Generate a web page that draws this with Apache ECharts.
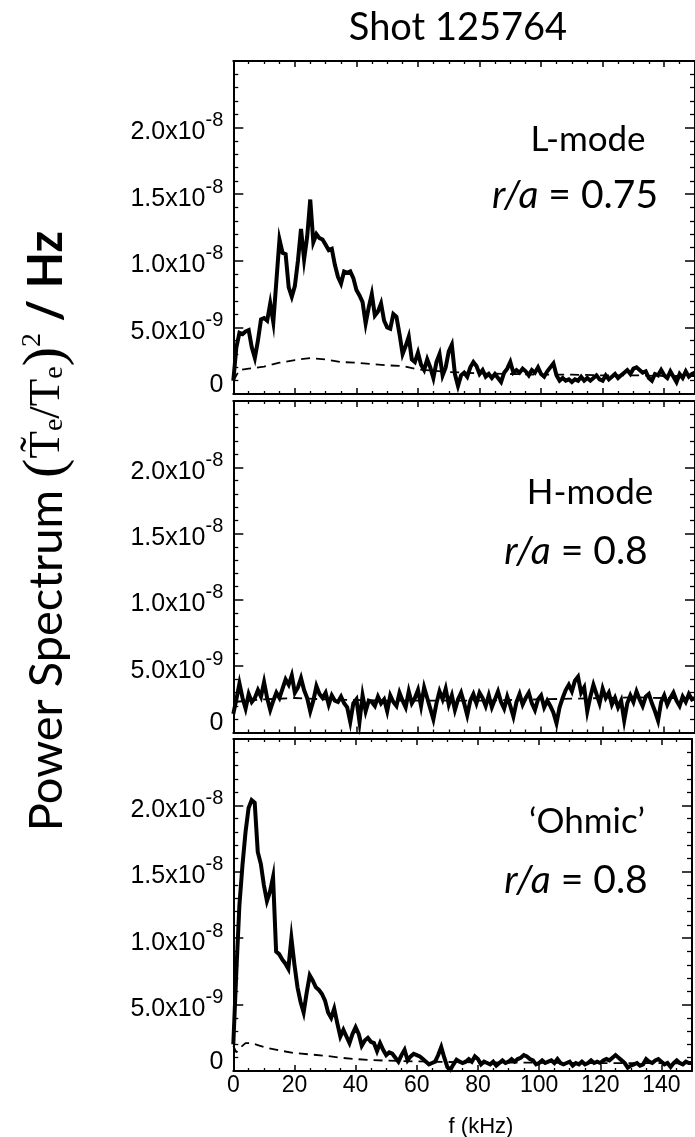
<!DOCTYPE html>
<html><head><meta charset="utf-8">
<script src="https://cdn.jsdelivr.net/npm/echarts/dist/echarts.min.js"></script>
<style>html,body{margin:0;padding:0;background:#fff}#c{width:695px;height:1137px}</style>
</head><body><div id="c"></div>
<script>
// ---------------- DATA (values in units of 1e-9 (Te~/Te)^2/Hz) ----------------
const freq = [0,1,2,3,4,5,6,7,8,9,10,11,12,13,14,15,16,17,18,19,20,21,22,23,24,25,26,27,28,29,30,31,32,33,34,35,36,37,38,39,40,41,42,43,44,45,46,47,48,49,50,51,52,53,54,55,56,57,58,59,60,61,62,63,64,65,66,67,68,69,70,71,72,73,74,75,76,77,78,79,80,81,82,83,84,85,86,87,88,89,90,91,92,93,94,95,96,97,98,99,100,101,102,103,104,105,106,107,108,109,110,111,112,113,114,115,116,117,118,119,120,121,122,123,124,125,126,127,128,129,130,131,132,133,134,135,136,137,138,139,140,141,142,143,144,145,146,147,148,149,150];

const lModeSpectrum = [1.0,3.5,4.6,4.5,4.7,4.8,3.5,2.7,4.0,5.6,5.7,5.5,6.8,5.4,8.5,11.6,10.6,10.5,8.0,7.3,8.1,10.0,12.4,10.1,11.8,14.6,11.4,12.0,11.7,11.6,11.2,10.8,10.9,9.7,8.8,8.3,9.2,9.1,9.2,8.7,7.8,7.4,6.9,5.3,6.5,7.5,5.9,6.2,6.8,5.5,5.0,4.9,6.0,5.8,4.5,3.0,3.6,4.3,2.6,2.4,3.1,2.2,1.8,2.6,2.0,1.2,2.4,3.0,1.4,2.0,3.2,3.7,1.5,0.6,1.4,1.6,1.3,2.0,2.4,2.1,1.5,1.8,1.3,1.5,1.2,1.5,1.2,0.9,1.6,1.9,2.4,1.6,1.8,1.6,1.9,1.7,1.4,1.8,1.6,2.0,1.5,1.3,1.7,2.0,2.3,1.4,1.0,1.2,1.0,1.1,0.9,1.1,1.0,1.3,1.0,1.2,1.0,1.2,1.4,1.1,1.0,1.4,1.1,1.3,1.5,1.2,1.4,1.6,1.8,1.5,1.9,2.0,1.8,1.6,1.7,1.2,1.0,1.5,1.4,1.8,1.4,1.2,1.7,1.3,0.9,1.5,1.2,1.7,1.3,1.5,1.6];

const hModeSpectrum = [1.4,2.5,3.7,2.6,1.8,2.9,2.3,2.6,3.2,2.7,3.8,2.6,1.7,2.4,3.0,2.6,3.3,4.0,3.6,4.3,3.0,3.4,4.1,3.2,2.6,1.6,2.4,3.5,2.9,2.6,3.0,2.1,2.8,2.4,2.3,2.7,2.2,1.9,0.8,2.2,2.5,0.8,2.8,1.6,2.4,2.3,2.0,2.7,2.2,2.5,1.6,2.8,2.3,2.0,3.0,2.4,1.9,3.1,2.2,2.6,3.2,2.0,3.4,2.6,1.8,1.0,2.2,3.1,2.5,3.3,2.1,2.8,1.7,2.5,3.0,2.2,1.3,2.4,2.9,2.2,3.0,2.6,2.0,2.8,1.9,2.5,3.1,2.3,1.8,2.7,2.0,1.2,2.3,2.9,2.1,2.6,3.0,2.2,1.7,2.5,2.8,1.9,2.4,2.0,1.5,0.7,1.9,2.6,3.2,3.6,3.1,3.9,4.2,3.0,3.4,1.6,2.7,3.6,2.9,2.2,3.3,2.6,3.0,2.1,2.6,1.9,2.4,0.9,2.2,2.8,2.3,3.1,2.5,2.0,2.7,2.9,2.2,1.6,0.9,2.3,2.8,2.1,2.6,3.0,2.4,2.0,2.7,2.3,2.9,2.5,2.6];

const ohmicSpectrum = [2.0,7.5,12.5,15.5,18.0,19.8,20.4,20.2,16.5,15.6,14.0,12.8,13.5,14.6,9.0,8.8,8.4,8.1,7.7,10.0,8.0,6.3,5.2,4.4,5.9,7.2,6.8,6.3,6.1,5.8,5.3,4.4,4.0,4.7,3.6,2.6,3.1,2.6,2.1,2.8,3.3,2.8,1.9,2.3,2.5,2.2,2.1,1.5,2.1,1.6,1.2,1.4,1.3,1.0,0.7,1.2,1.6,0.8,1.1,1.3,1.2,1.1,0.9,0.7,0.5,0.6,0.7,1.2,1.8,1.0,0.3,0.1,0.5,0.85,0.7,0.6,0.7,0.9,0.7,1.1,0.9,0.5,0.7,0.6,0.5,0.7,0.4,0.6,0.8,0.6,0.7,0.9,0.7,0.9,1.0,1.2,1.1,0.9,0.8,0.5,0.6,0.8,0.6,0.7,0.8,0.6,0.9,0.6,0.5,0.6,0.7,0.4,0.6,0.5,0.7,0.5,0.6,0.8,0.6,0.7,0.6,0.8,0.9,0.8,1.0,1.2,1.0,0.8,0.6,0.25,0.4,0.5,0.6,0.4,0.5,0.9,0.7,0.6,0.8,0.9,0.7,0.5,0.6,0.3,0.6,0.8,0.6,0.5,0.7,0.6,0.6];

const lModeNoiseFreq = [0,2,5,10,15,20,25,30,35,40,45,50,55,60,65,70,75,80,90,100,110,120,130,140,150];
const lModeNoise     = [1.0,1.8,1.9,2.05,2.35,2.55,2.7,2.6,2.4,2.35,2.25,2.15,2.1,1.85,1.75,1.65,1.6,1.55,1.5,1.45,1.45,1.4,1.4,1.35,1.35];
const hModeNoiseFreq = [0,10,20,30,40,50,60,70,80,90,100,110,120,130,140,150];
const hModeNoise     = [2.3,2.5,2.6,2.5,2.45,2.4,2.4,2.4,2.4,2.45,2.5,2.55,2.6,2.65,2.6,2.6];
const ohmicNoiseFreq = [0,1,2,4,6,8,10,15,20,25,30,35,40,45,50,60,70,80,100,120,150];
const ohmicNoise     = [1.9,1.4,1.7,2.1,2.1,1.95,1.8,1.55,1.35,1.25,1.15,1.0,0.9,0.82,0.78,0.72,0.68,0.65,0.62,0.6,0.58];

const xTickLabels = ['0','20','40','60','80','100','120','140'];
const yTickValues = [0,5,10,15,20,25];
const yTickMantissa = ['0','5.0x10','1.0x10','1.5x10','2.0x10',''];
const yTickExponent = ['','-9','-8','-8','-8',''];
const modeLabels = ['L-mode','H-mode','\u2018Ohmic\u2019'];
const radiusLabels = ['0.75','0.8','0.8'];
const titleText = 'Shot 125764';
const xTitle = 'f (kHz)';

// ---------------- LAYOUT ----------------
const PL = 233.3, PW = 468.75;
const panels = [{top:61,h:333},{top:401,h:331.5},{top:739,h:332}];
const modePos = [[588,140],[590,493],[587,822]];
const radPos  = [[575,195],[576,551],[576,880]];
const SANS = 'Lato';
const black = '#000';

const spectra = [lModeSpectrum, hModeSpectrum, ohmicSpectrum];
const noiseF = [lModeNoiseFreq, hModeNoiseFreq, ohmicNoiseFreq];
const noiseV = [lModeNoise, hModeNoise, ohmicNoise];

const grids = [], xAxes = [], yAxes = [], series = [], graphics = [];
const yRich = {
  a:{fontFamily:'Liberation Sans', fontSize:25, color:black, lineHeight:34, verticalAlign:'bottom'},
  b:{fontFamily:'Liberation Sans', fontSize:20, color:black, verticalAlign:'top'},
  z:{fontFamily:'Liberation Sans', fontSize:25, color:black, padding:[0,0,18,0]}
};
function yFmt(v){
  const k = yTickValues.indexOf(Math.round(v));
  if (k < 0 || yTickMantissa[k] === '') return '';
  if (yTickExponent[k] === '') return '{z|' + yTickMantissa[k] + '}';
  return '{a|' + yTickMantissa[k] + '}{b|' + yTickExponent[k] + '}';
}
function xFmt(v){
  const k = Math.round(v/20);
  return (Math.abs(v - k*20) < 1e-6 && xTickLabels[k] !== undefined) ? xTickLabels[k] : '';
}
panels.forEach((p,i)=>{
  grids.push({left:PL, top:p.top, width:PW, height:p.h});
  const xBase = {type:'value', gridIndex:i, min:0, max:150, interval:20,
    axisLine:{show:true, onZero:false, lineStyle:{color:black, width:2}},
    axisTick:{show:true, inside:true, length:6, lineStyle:{color:black, width:1.5}},
    minorTick:{show:true, splitNumber:4, length:3, lineStyle:{color:black, width:1.3}},
    splitLine:{show:false}, minorSplitLine:{show:false}};
  xAxes.push(Object.assign({}, xBase, {position:'bottom',
    axisLabel:{show:i===2, formatter:xFmt, color:black, fontFamily:'Liberation Sans', fontSize:23, margin:3}}));
  xAxes.push(Object.assign({}, xBase, {position:'top', axisLabel:{show:false}}));
  const yBase = {type:'value', gridIndex:i, min:0, max:25, interval:5,
    axisLine:{show:true, onZero:false, lineStyle:{color:black, width:2}},
    axisTick:{show:true, inside:true, length:10, lineStyle:{color:black, width:1.5}},
    minorTick:{show:true, splitNumber:5, length:5, lineStyle:{color:black, width:1.3}},
    splitLine:{show:false}, minorSplitLine:{show:false}};
  yAxes.push(Object.assign({}, yBase, {position:'left',
    axisLabel:{show:true, formatter:yFmt, rich:yRich, margin:10}}));
  yAxes.push(Object.assign({}, yBase, {position:'right', axisLabel:{show:false}}));

  series.push({type:'line', xAxisIndex:2*i, yAxisIndex:2*i, showSymbol:false, silent:true,
    data: noiseF[i].map((f,k)=>[f, noiseV[i][k]]),
    lineStyle:{color:black, width:1.8, type:[9,6]}, z:2});
  series.push({type:'line', xAxisIndex:2*i, yAxisIndex:2*i, showSymbol:false, silent:true,
    data: freq.map((f,k)=>[f, spectra[i][k]]),
    lineStyle:{color:black, width:4, join:'miter'}, z:3});

  graphics.push({type:'text', x:modePos[i][0], y:modePos[i][1],
    style:{text:modeLabels[i], fontFamily:SANS, fontSize:35, fill:black, align:'center', verticalAlign:'middle'}});
  graphics.push({type:'text', x:radPos[i][0], y:radPos[i][1],
    style:{text:'{it|r/a} = ' + radiusLabels[i], fontFamily:SANS, fontSize:39, fill:black, align:'center', verticalAlign:'middle',
      rich:{it:{fontFamily:SANS, fontStyle:'italic', fontSize:39, fill:black}}}});
});

graphics.push({type:'text', x:458, y:28,
  style:{text:titleText, fontFamily:SANS, fontSize:38, fill:black, align:'center', verticalAlign:'middle'}});
graphics.push({type:'text', x:481, y:1127,
  style:{text:xTitle, fontFamily:'Liberation Sans', fontSize:22, fill:black, align:'center', verticalAlign:'middle'}});
graphics.push({type:'text', x:47, y:531, rotation:Math.PI/2,
  style:{text:'{s|Power Spectrum }{p|(}{t|T\u0303}{e|e}{t|/T}{e|e}{p|)}{u|2}{h| / Hz}',
    align:'center', verticalAlign:'middle',
    rich:{
      s:{fontFamily:SANS, fontSize:47, fill:black, lineHeight:66},
      p:{fontFamily:'Liberation Serif', fontSize:58, fill:black},
      t:{fontFamily:'Liberation Serif', fontSize:45, fill:black},
      e:{fontFamily:'Liberation Serif', fontSize:28, fill:black, padding:[16,0,0,0]},
      u:{fontFamily:'Liberation Serif', fontSize:28, fill:black, padding:[0,0,28,0]},
      h:{fontFamily:SANS, fontWeight:'bold', fontSize:47, fill:black}
    }}});

const chart = echarts.init(document.getElementById('c'), null, {renderer:'canvas'});
chart.setOption({
  backgroundColor:'#fff', animation:false,
  grid:grids, xAxis:xAxes, yAxis:yAxes, series:series, graphic:graphics
});
</script></body></html>
